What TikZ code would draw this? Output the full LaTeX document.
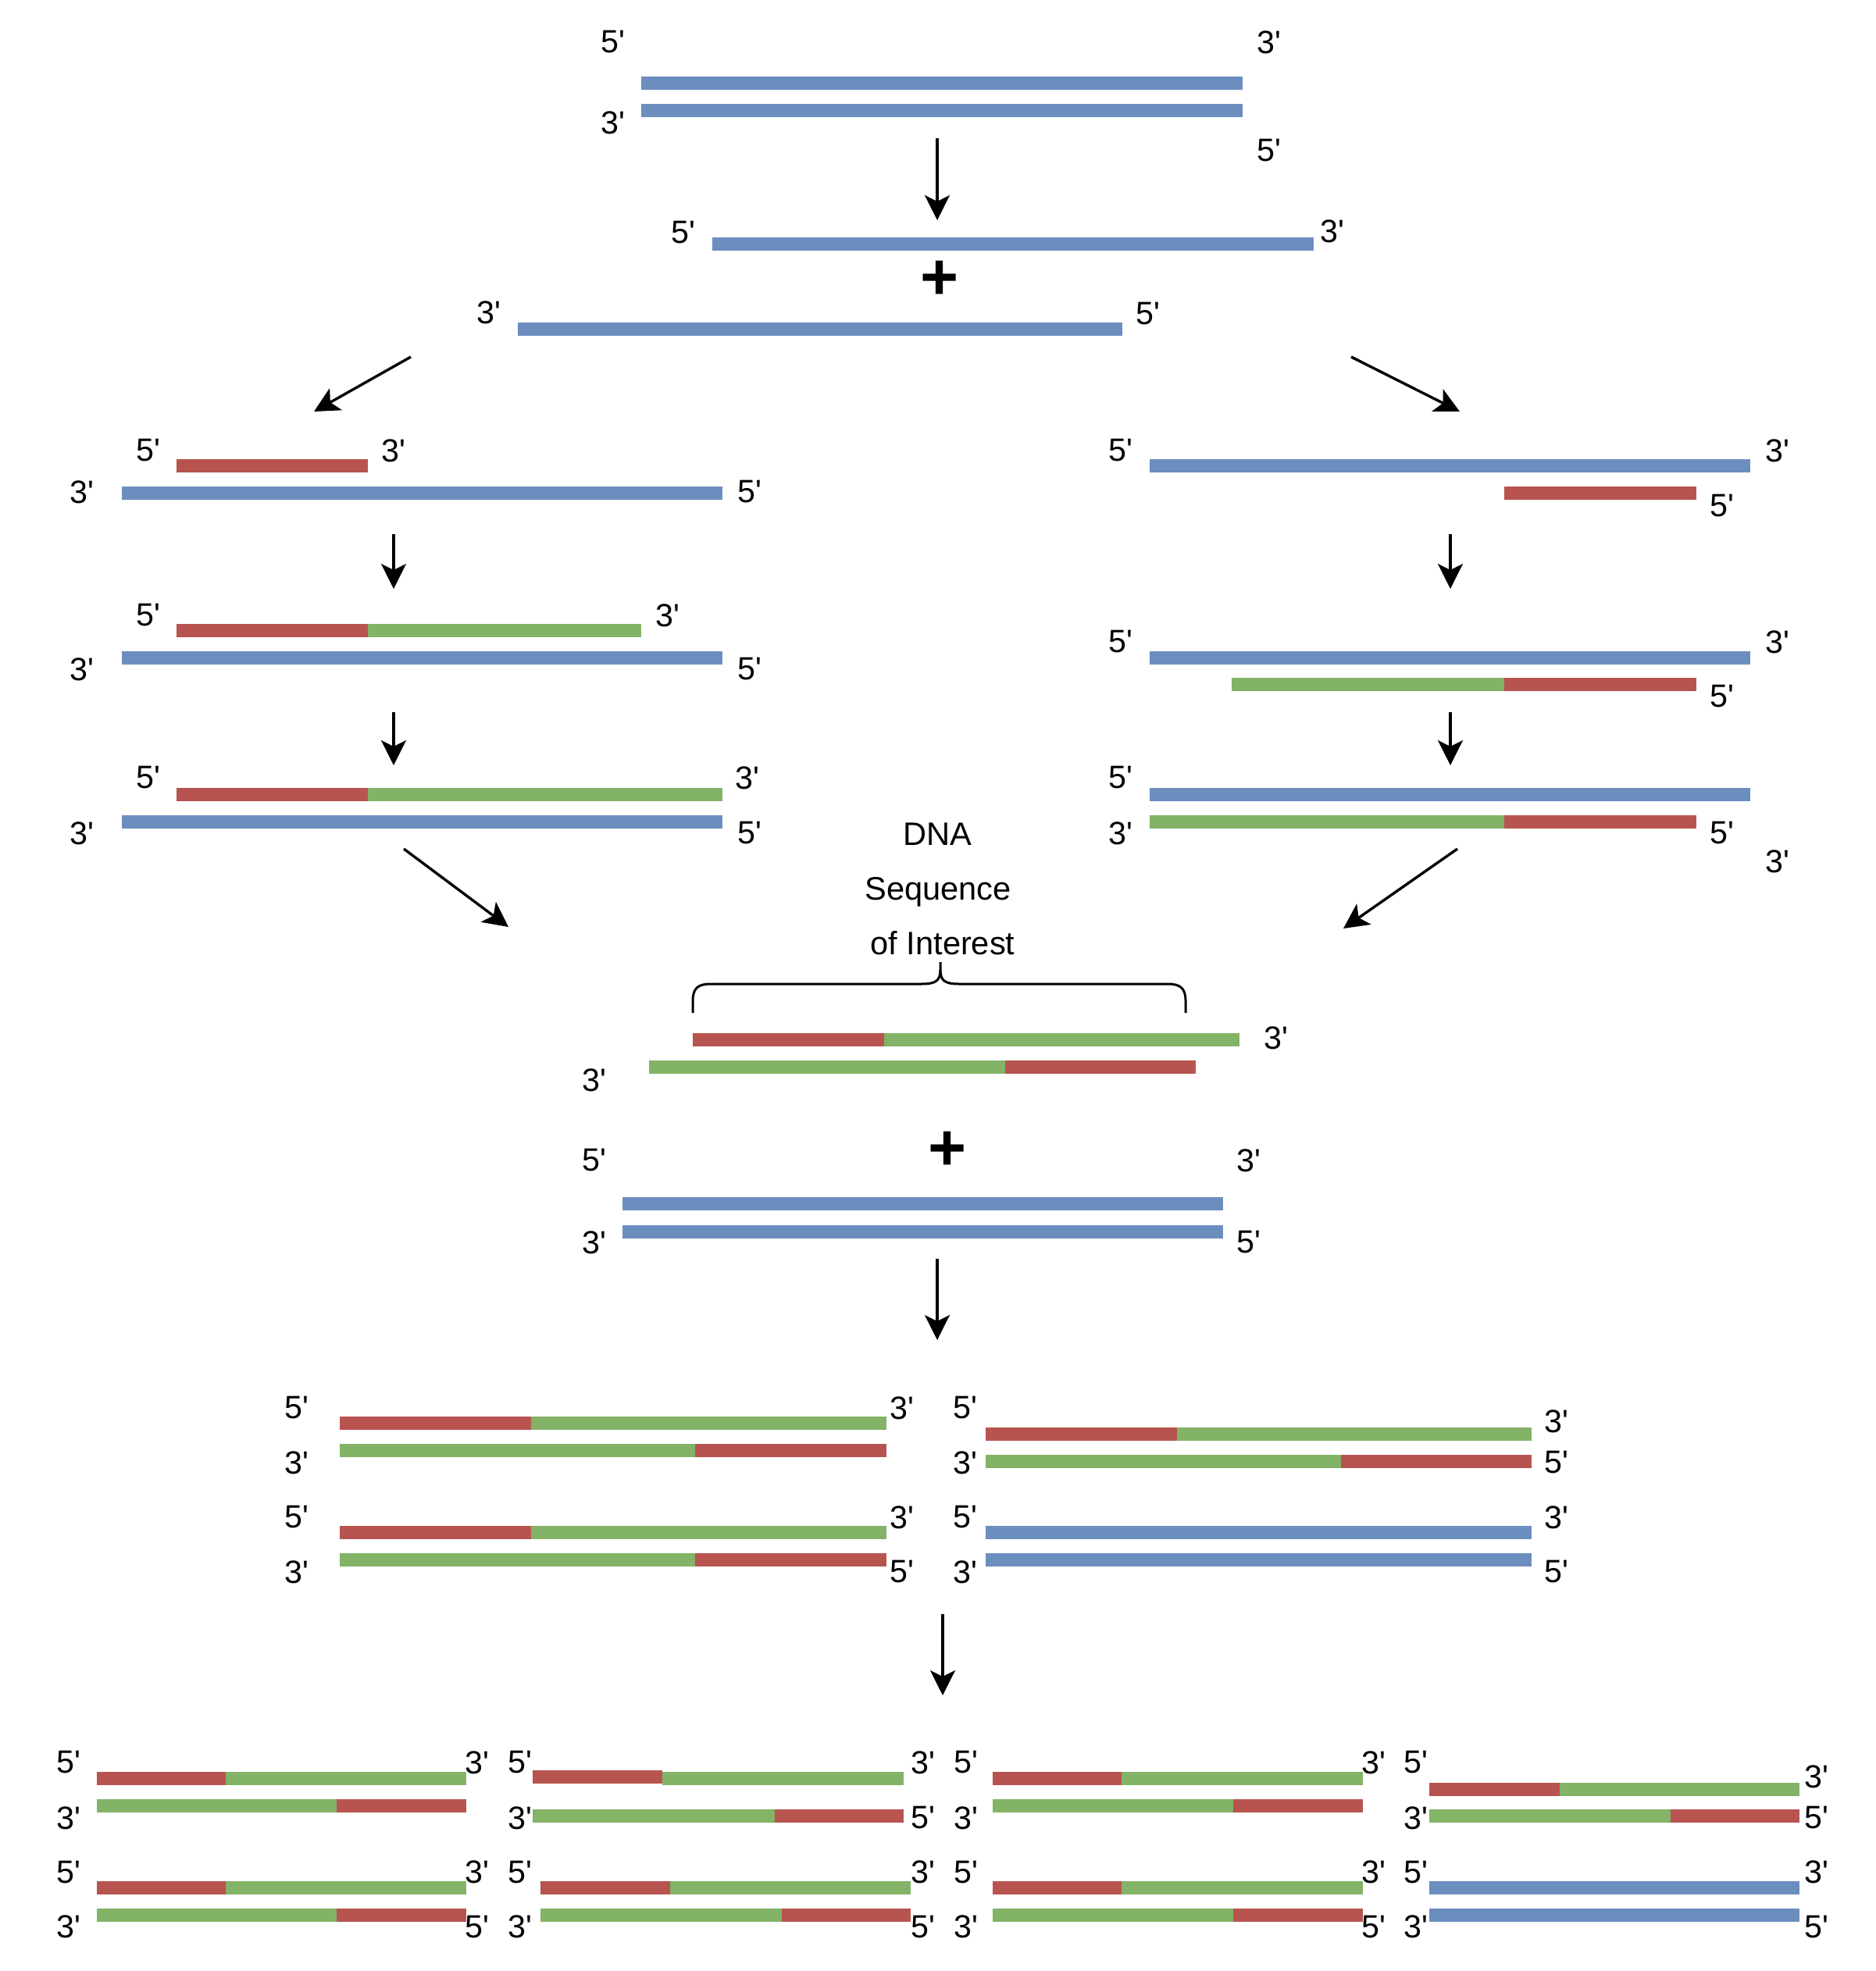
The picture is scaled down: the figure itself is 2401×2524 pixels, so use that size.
\documentclass[tikz,border=0pt]{standalone}
\usepackage{fontspec}
\setmainfont{Liberation Sans}
\usetikzlibrary{arrows.meta}
\definecolor{sblue}{HTML}{6C8EBF}
\definecolor{sred}{HTML}{B85450}
\definecolor{sgreen}{HTML}{82B366}
\newcounter{lbc}
\newcommand\lbl[3]{\stepcounter{lbc}\node[lab] (lb\arabic{lbc}) at (#1,#2) {#3\textquotesingle};}
\newcommand\seg[4]{\fill[#1] (#2,#4-8.5) rectangle (#3,#4+8.5);}
\newcommand\twoseg[6]{\seg{#1}{#3}{#4}{#6}\seg{#2}{#4}{#5}{#6}}
\tikzset{
  lab/.style={inner sep=0pt, font=\fontsize{10.3}{12}\selectfont},
  txt/.style={inner sep=0pt, anchor=base, font=\fontsize{10.4}{12}\selectfont},
  plus/.style={inner sep=0pt, font=\fontsize{21}{21}\selectfont\bfseries},
  arr/.style={draw=black, line width=0.85pt, -{Stealth[length=8pt,width=8pt,inset=2pt]}},
  bracestyle/.style={draw=black, line width=0.75pt}
}
\begin{document}
\begin{tikzpicture}[x=0.25pt,y=-0.25pt]
\fill[white] (0,0) rectangle (2401,2524);
\useasboundingbox (0,0) rectangle (2401,2524);
% ---------- top ----------
\seg{sblue}{821}{1591}{107}
\seg{sblue}{821}{1591}{142}
\lbl{785}{54}{5} \lbl{1625}{54}{3} \lbl{785}{157}{3} \lbl{1625}{193}{5}
\coordinate (a1s) at (1200,177); \coordinate (a1e) at (1200,282);
\draw[arr] (a1s) -- (a1e);
\seg{sblue}{912}{1682}{313} \lbl{875}{298}{5} \lbl{1706}{296}{3}
\node[plus] (p1) at (1203,359) {+};
\seg{sblue}{663}{1437}{422} \lbl{626}{400}{3} \lbl{1470}{402}{5}
\coordinate (a2s) at (526,457); \coordinate (a2e) at (402,527);
\draw[arr] (a2s) -- (a2e);
\coordinate (a3s) at (1730,457); \coordinate (a3e) at (1869,527);
\draw[arr] (a3s) -- (a3e);
% ---------- left column ----------
\seg{sred}{226}{471}{597} \seg{sblue}{156}{925}{632}
\lbl{190}{577}{5} \lbl{504}{577}{3} \lbl{105}{630}{3} \lbl{960}{630}{5}
\coordinate (a4s) at (504,684); \coordinate (a4e) at (504,754);
\draw[arr] (a4s) -- (a4e);
\twoseg{sred}{sgreen}{226}{471}{821}{807} \seg{sblue}{156}{925}{842}
\lbl{190}{788}{5} \lbl{855}{788}{3} \lbl{105}{857}{3} \lbl{960}{857}{5}
\coordinate (a5s) at (504,912); \coordinate (a5e) at (504,980);
\draw[arr] (a5s) -- (a5e);
\twoseg{sred}{sgreen}{226}{471}{925}{1017} \seg{sblue}{156}{925}{1052}
\lbl{190}{996}{5} \lbl{957}{996}{3} \lbl{105}{1067}{3} \lbl{960}{1067}{5}
\coordinate (a8s) at (517,1087); \coordinate (a8e) at (651,1187);
\draw[arr] (a8s) -- (a8e);
% ---------- right column ----------
\seg{sblue}{1472}{2241}{597} \seg{sred}{1926}{2172}{632}
\lbl{1435}{577}{5} \lbl{2276}{577}{3} \lbl{2205}{648}{5}
\coordinate (a6s) at (1857,684); \coordinate (a6e) at (1857,754);
\draw[arr] (a6s) -- (a6e);
\seg{sblue}{1472}{2241}{842} \twoseg{sgreen}{sred}{1577}{1926}{2172}{876}
\lbl{1435}{822}{5} \lbl{2276}{822}{3} \lbl{2205}{892}{5}
\coordinate (a7s) at (1857,912); \coordinate (a7e) at (1857,980);
\draw[arr] (a7s) -- (a7e);
\seg{sblue}{1472}{2241}{1017} \twoseg{sgreen}{sred}{1472}{1926}{2172}{1052}
\lbl{1435}{996}{5} \lbl{1435}{1067}{3} \lbl{2205}{1067}{5} \lbl{2276}{1103}{3}
\coordinate (a9s) at (1866,1087); \coordinate (a9e) at (1720,1189);
\draw[arr] (a9s) -- (a9e);
% ---------- middle ----------
\node[txt] (t1) at (1200,1082) {DNA};
\node[txt] (t2) at (1201,1152) {Sequence};
\node[txt] (t3) at (1207,1222) {of Interest};
\draw[bracestyle] (887,1297) -- (887,1282) .. controls (887,1266) and (893,1260) .. (910,1260)
  -- (1180,1260) .. controls (1198,1260) and (1204,1256) .. (1204,1242) -- (1204,1232);
\draw[bracestyle] (1204,1242) .. controls (1204,1256) and (1210,1260) .. (1228,1260)
  -- (1495,1260) .. controls (1512,1260) and (1518,1266) .. (1518,1282) -- (1518,1297);
\twoseg{sred}{sgreen}{887}{1132}{1587}{1331} \lbl{1634}{1329}{3}
\twoseg{sgreen}{sred}{831}{1287}{1531}{1366} \lbl{761}{1383}{3}
\node[plus] (p2) at (1213,1474) {+};
\lbl{761}{1486}{5} \lbl{1599}{1486}{3}
\seg{sblue}{797}{1566}{1541} \seg{sblue}{797}{1566}{1577}
\lbl{761}{1591}{3} \lbl{1599}{1591}{5}
\coordinate (a10s) at (1200,1612); \coordinate (a10e) at (1200,1716);
\draw[arr] (a10s) -- (a10e);
% ---------- second generation ----------
\twoseg{sred}{sgreen}{435}{680}{1135}{1822} \twoseg{sgreen}{sred}{435}{890}{1135}{1857}
\lbl{380}{1803}{5} \lbl{1155}{1803}{3} \lbl{380}{1873}{3}
\twoseg{sred}{sgreen}{1262}{1507}{1961}{1836} \twoseg{sgreen}{sred}{1262}{1717}{1961}{1871}
\lbl{1236}{1803}{5} \lbl{1993}{1820}{3} \lbl{1236}{1873}{3} \lbl{1993}{1873}{5}
\twoseg{sred}{sgreen}{435}{680}{1135}{1962} \twoseg{sgreen}{sred}{435}{890}{1135}{1997}
\lbl{380}{1943}{5} \lbl{1155}{1943}{3} \lbl{380}{2013}{3} \lbl{1155}{2013}{5}
\seg{sblue}{1262}{1961}{1962} \seg{sblue}{1262}{1961}{1997}
\lbl{1236}{1943}{5} \lbl{1993}{1943}{3} \lbl{1236}{2013}{3} \lbl{1993}{2013}{5}
\coordinate (a11s) at (1207,2067); \coordinate (a11e) at (1207,2171);
\draw[arr] (a11s) -- (a11e);
% ---------- third generation ----------
\twoseg{sred}{sgreen}{124}{289}{597}{2277} \twoseg{sgreen}{sred}{124}{431}{597}{2312}
\lbl{88}{2257}{5} \lbl{611}{2257}{3} \lbl{88}{2328}{3}
\seg{sred}{682}{848}{2275} \seg{sgreen}{848}{1157}{2277} \twoseg{sgreen}{sred}{682}{992}{1157}{2325}
\lbl{666}{2257}{5} \lbl{1182}{2257}{3} \lbl{666}{2328}{3} \lbl{1182}{2328}{5}
\twoseg{sred}{sgreen}{1271}{1436}{1745}{2277} \twoseg{sgreen}{sred}{1271}{1579}{1745}{2312}
\lbl{1237}{2257}{5} \lbl{1759}{2257}{3} \lbl{1237}{2328}{3}
\twoseg{sred}{sgreen}{1830}{1997}{2304}{2291} \twoseg{sgreen}{sred}{1830}{2139}{2304}{2325}
\lbl{1813}{2257}{5} \lbl{2326}{2275}{3} \lbl{1813}{2328}{3} \lbl{2326}{2328}{5}
\twoseg{sred}{sgreen}{124}{289}{597}{2417} \twoseg{sgreen}{sred}{124}{431}{597}{2452}
\lbl{88}{2397}{5} \lbl{611}{2397}{3} \lbl{88}{2467}{3} \lbl{611}{2467}{5}
\twoseg{sred}{sgreen}{692}{858}{1166}{2417} \twoseg{sgreen}{sred}{692}{1001}{1166}{2452}
\lbl{666}{2397}{5} \lbl{1182}{2397}{3} \lbl{666}{2467}{3} \lbl{1182}{2467}{5}
\twoseg{sred}{sgreen}{1271}{1436}{1745}{2417} \twoseg{sgreen}{sred}{1271}{1579}{1745}{2452}
\lbl{1237}{2397}{5} \lbl{1759}{2397}{3} \lbl{1237}{2467}{3} \lbl{1759}{2467}{5}
\seg{sblue}{1830}{2304}{2417} \seg{sblue}{1830}{2304}{2452}
\lbl{1813}{2397}{5} \lbl{2326}{2397}{3} \lbl{1813}{2467}{3} \lbl{2326}{2467}{5}
\end{tikzpicture}
\end{document}
